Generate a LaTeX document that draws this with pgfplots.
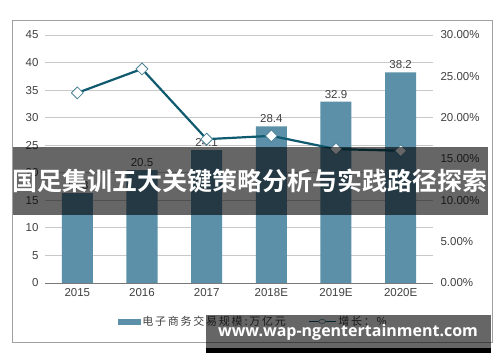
\documentclass[border=0pt]{standalone}
\usepackage{pgfplots}
\pgfplotsset{compat=1.18}
\usepackage{fontspec}
\setmainfont{Liberation Sans}
\newfontfamily\cjk{Noto Sans CJK SC}
\newfontfamily\cjkbold{Noto Sans CJK SC Bold}
\newfontfamily\wm{Open Sans}[BoldFont={* Bold}]
\definecolor{barc}{HTML}{5B90A8}
\definecolor{linec}{HTML}{0F5A6E}
\definecolor{mkc}{HTML}{4D8296}
\definecolor{txt}{HTML}{404040}
\definecolor{gridc}{HTML}{C8C8C8}
\begin{document}
\begin{tikzpicture}[x=1pt,y=1pt]
\path (0,0) rectangle (500,362);
\draw[color=gridc!80!black, line width=0.8pt] (12,20) rectangle (492,342);
\begin{axis}[
  at={(45pt,79pt)}, anchor=south west,
  scale only axis, width=388pt, height=248pt,
  xmin=-0.5, xmax=5.5, ymin=0, ymax=45,
  xtick={0,1,2,3,4,5},
  xticklabels={2015,2016,2017,2018E,2019E,2020E},
  ytick={0,5,...,45},
  axis line style={draw=none},
  major tick length=0pt,
  ymajorgrids, grid style={gridc, line width=0.8pt},
  tick label style={font=\fontsize{11.5}{13}\selectfont, text=txt},
  /pgf/number format/assume math mode=true,
  yticklabel style={xshift=-3pt},
  xticklabel style={yshift=-2pt},
  ybar, bar width=31pt,
  nodes near coords,
  every node near coord/.append style={font=\fontsize{11.5}{13}\selectfont, text=txt, /pgf/number format/fixed, /pgf/number format/precision=1},
]
\addplot[fill=barc, draw=none] coordinates {(0,16.3) (1,20.5) (2,24.1) (3,28.4) (4,32.9) (5,38.2)};
\draw[color=gridc!60!black, line width=0.9pt] (axis cs:-0.5,0) -- (axis cs:5.5,0);
\end{axis}
\begin{axis}[
  at={(45pt,79pt)}, anchor=south west,
  scale only axis, width=388pt, height=248pt,
  xmin=-0.5, xmax=5.5, ymin=0, ymax=30,
  axis y line*=right, axis x line=none,
  axis line style={draw=none},
  major tick length=0pt,
  ytick={0,5,...,30},
  yticklabels={0.00\%,5.00\%,10.00\%,15.00\%,20.00\%,25.00\%,30.00\%},
  yticklabel style={font=\fontsize{11.5}{13}\selectfont, text=txt, xshift=4pt},
  legend columns=2,
  legend style={at={(rel axis cs:0.18,-0.155)}, anchor=west, draw=none, fill=none,
    font=\cjk\fontsize{11}{13}\selectfont\addfontfeature{LetterSpace=16}, text=txt,
    /tikz/every even column/.append style={column sep=20pt}},
]
\addlegendimage{legend image code/.code={\fill[barc] (0pt,-2.5pt) rectangle (22pt,2.5pt);}}
\addlegendentry{电子商务交易规模:万亿元}
\addplot[color=linec, line width=2.2pt, mark=square*, mark size=4.2pt,
  mark options={fill=white, draw=mkc, line width=0.8pt, rotate=45},
  legend image code/.code={\draw[line width=1.6pt, color=linec] (0pt,0pt) -- (27pt,0pt);
     \draw[fill=white, draw=mkc, line width=0.6pt] (13.5pt,0pt) ellipse (3.5pt and 2pt);}]
  coordinates {(0,23.0) (1,25.9) (2,17.4) (3,17.8) (4,16.2) (5,16.0)};
\addlegendentry{增长：\%}
\end{axis}
\fill[black, opacity=0.6] (13,147) rectangle (488,215);
\node[text=white, font=\cjkbold\fontsize{25}{28}\selectfont] at (250,181) {国足集训五大关键策略分析与实践路径探索};
\fill[black, opacity=0.6] (206,14) rectangle (491,47);
\fill[black] (206,9) rectangle (491,14);
\node[text=white, font=\wm\bfseries\fontsize{16}{18}\selectfont] at (348,30) {www.wap-ngentertainment.com};
\end{tikzpicture}
\end{document}
